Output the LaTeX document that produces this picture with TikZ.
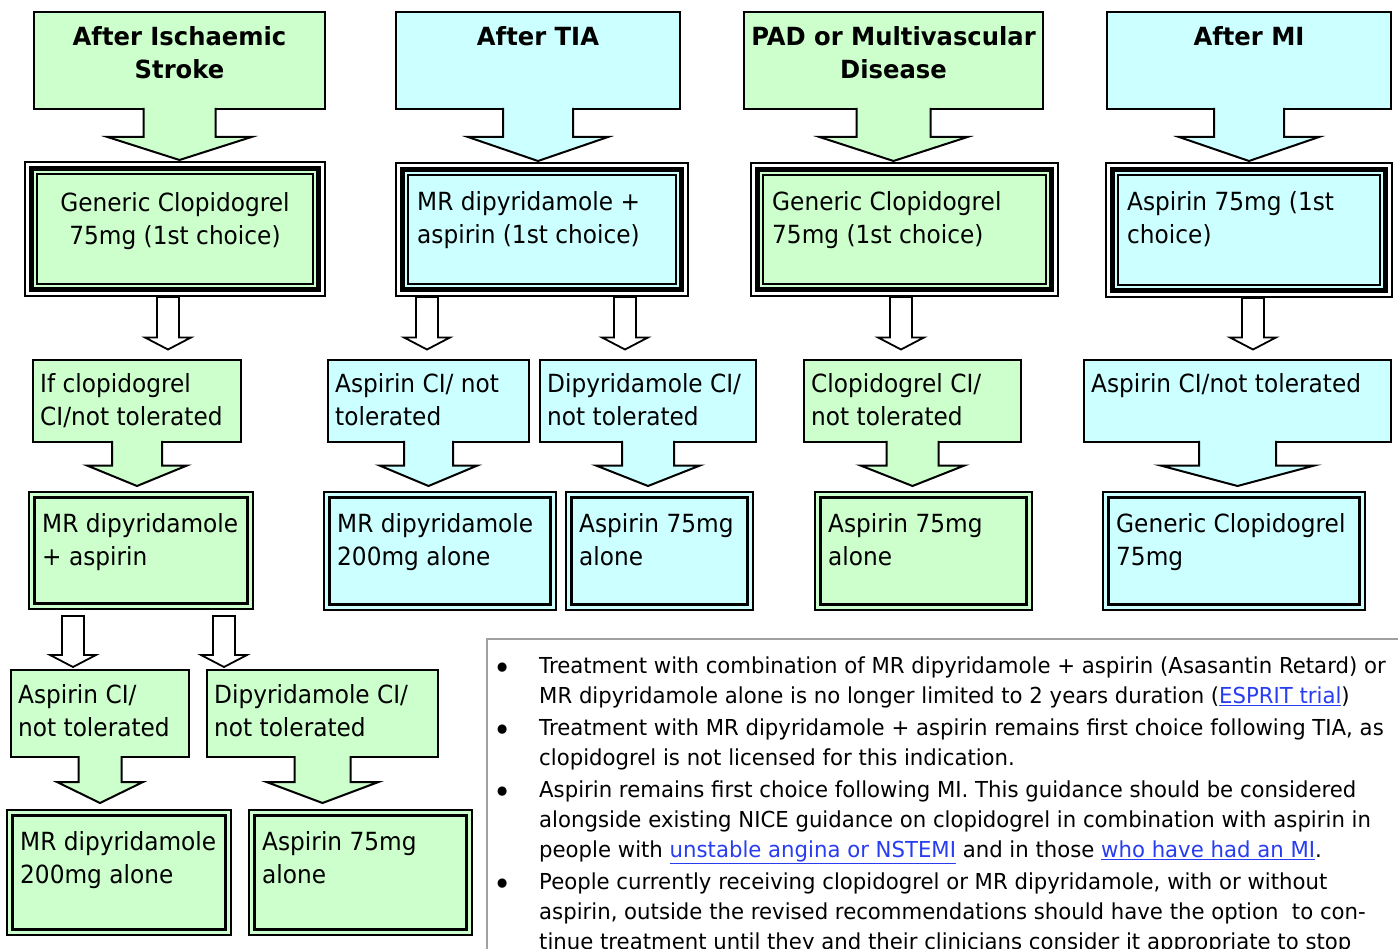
\documentclass[tikz,border=0pt]{standalone}
\usepackage{fontspec}
\setmainfont{DejaVu Sans}[FakeStretch=0.93]
\newfontfamily\headfont{DejaVu Sans}[FakeStretch=0.97]
\newfontfamily\notefont{DejaVu Sans}[FakeStretch=0.965]
\usetikzlibrary{calc}
\definecolor{greenfill}{RGB}{204,255,204}
\definecolor{cyanfill}{RGB}{204,255,255}
\definecolor{linkblue}{RGB}{40,60,240}
\definecolor{notegray}{RGB}{160,160,160}

\newcommand{\boxtext}{\fontsize{25}{33}\selectfont}
\newcommand{\headtext}{\headfont\bfseries\fontsize{25}{33}\selectfont}
\newcommand{\notetext}{\notefont\fontsize{22}{30}\selectfont}
\newcommand{\weblink}[1]{\textcolor{linkblue}{\underline{#1}}}
\newcommand{\notebullet}{\raisebox{-6pt}{\fontsize{32}{32}\selectfont •}}

% boxes are given by their outer corners (x1,y1,x2,y2), in pixels from the top left
\newcommand{\flowbox}[6]{%
  \node[plainbox, fill=#2, anchor=north west, minimum width=#5-#3-2, minimum height=#6-#4-2] (#1) at (#3+1,#4+1) {};}
\newcommand{\firstbox}[6]{%
  \node[outerline, anchor=north west, minimum width=#5-#3-2, minimum height=#6-#4-2] (#1) at (#3+1,#4+1) {};
  \draw[line width=5pt, fill=#2] ($(#1.north west)+(6.5,6.5)$) rectangle ($(#1.south east)+(-6.5,-6.5)$);
  \draw[line width=2pt] ($(#1.north west)+(12,12)$) rectangle ($(#1.south east)+(-12,-12)$);}
\newcommand{\resultbox}[6]{%
  \node[plainbox, line width=1.8pt, fill=#2, anchor=north west, minimum width=#5-#3-2, minimum height=#6-#4-2] (#1) at (#3+1,#4+1) {};
  \draw[line width=3pt] ($(#1.north west)+(5.8,5.8)$) rectangle ($(#1.south east)+(-5.8,-5.8)$);}

% arrow hanging from a box: source, target, stem half width, stem length, tip gap, fill
\newcommand{\calloutarrow}[6]{%
  \draw[line width=2pt, fill=#6] let \p1=(#1.south), \p2=(#2.north) in
    (\x1-#3pt,\y1+1pt) -- (\x1-#3pt,\y1-#4pt) -- (\x1-2*#3pt,\y1-#4pt) -- (\x1,\y2+#5pt)
    -- (\x1+2*#3pt,\y1-#4pt) -- (\x1+#3pt,\y1-#4pt) -- (\x1+#3pt,\y1+1pt);}
% white block arrow: source, target, x, top gap, tip gap
\newcommand{\hollowarrow}[5]{%
  \draw[line width=1.8pt, fill=white] let \p1=(#1.south), \p2=(#2.north) in
    (#3pt-11pt,\y1-#4pt) -- (#3pt-11pt,\y2+#5pt+12pt) -- (#3pt-23pt,\y2+#5pt+12pt) -- (#3pt,\y2+#5pt)
    -- (#3pt+23pt,\y2+#5pt+12pt) -- (#3pt+11pt,\y2+#5pt+12pt) -- (#3pt+11pt,\y1-#4pt) -- cycle;}

\begin{document}
\begin{tikzpicture}[x=1pt, y=-1pt,
    plainbox/.style={draw, line width=2pt, inner sep=0pt, outer sep=0pt},
    outerline/.style={draw, line width=2pt, fill=white, inner sep=0pt, outer sep=0pt},
    boxtxt/.style={font=\boxtext, align=left, inner sep=0pt, anchor=base west},
    headtxt/.style={font=\headtext, align=center, inner sep=0pt, anchor=base},
    notetxt/.style={font=\notetext, inner sep=0pt, anchor=base west}
  ]
  \clip (0,0) rectangle (1398,949);

  % after ischaemic stroke
  \flowbox{t1}{greenfill}{33}{11}{326}{110}
  \firstbox{c1}{greenfill}{24}{161}{326}{297}
  \flowbox{n1}{greenfill}{32}{359}{242}{443}
  \resultbox{r1}{greenfill}{28}{491}{254}{610}
  \flowbox{n1a}{greenfill}{10}{669}{190}{758}
  \flowbox{n1b}{greenfill}{206}{669}{439}{758}
  \resultbox{r1a}{greenfill}{6}{809}{232}{936}
  \resultbox{r1b}{greenfill}{248}{809}{473}{936}

  % after TIA
  \flowbox{t2}{cyanfill}{395}{11}{681}{110}
  \firstbox{c2}{cyanfill}{395}{162}{689}{297}
  \flowbox{n2a}{cyanfill}{327}{359}{530}{443}
  \flowbox{n2b}{cyanfill}{539}{359}{757}{443}
  \resultbox{r2a}{cyanfill}{323}{491}{557}{611}
  \resultbox{r2b}{cyanfill}{565}{491}{754}{611}

  % PAD
  \flowbox{t3}{greenfill}{743}{11}{1044}{110}
  \firstbox{c3}{greenfill}{750}{162}{1059}{297}
  \flowbox{n3}{greenfill}{803}{359}{1022}{443}
  \resultbox{r3}{greenfill}{814}{491}{1033}{611}

  % after MI
  \flowbox{t4}{cyanfill}{1106}{11}{1392}{110}
  \firstbox{c4}{cyanfill}{1105}{162}{1393}{298}
  \flowbox{n4}{cyanfill}{1083}{359}{1392}{443}
  \resultbox{r4}{cyanfill}{1102}{491}{1366}{611}

  \calloutarrow{t1}{c1}{36}{28}{2}{greenfill}
  \calloutarrow{t2}{c2}{35}{28}{2}{cyanfill}
  \calloutarrow{t3}{c3}{37}{28}{2}{greenfill}
  \calloutarrow{t4}{c4}{35}{28}{2}{cyanfill}
  \calloutarrow{n1}{r1}{25}{23.5}{6}{greenfill}
  \calloutarrow{n2a}{r2a}{24.5}{23.5}{6}{cyanfill}
  \calloutarrow{n2b}{r2b}{26}{23.5}{6}{cyanfill}
  \calloutarrow{n3}{r3}{26}{23.5}{6}{greenfill}
  \calloutarrow{n4}{r4}{38.5}{23.5}{6}{cyanfill}
  \calloutarrow{n1a}{r1a}{21.5}{25}{7}{greenfill}
  \calloutarrow{n1b}{r1b}{28}{25}{7}{greenfill}

  \hollowarrow{c1}{n1}{168}{1}{10.5}
  \hollowarrow{c2}{n2a}{427}{1}{10.5}
  \hollowarrow{c2}{n2b}{625}{1}{10.5}
  \hollowarrow{c3}{n3}{901}{1}{10.5}
  \hollowarrow{c4}{n4}{1253}{1}{10.5}
  \hollowarrow{r1}{n1a}{73}{7}{3}
  \hollowarrow{r1}{n1b}{224}{7}{3}

  % base anchor of a two-line text is its second line
  \node[headtxt] (t1-txt) at ($(t1.north)+(0,67)$) {After Ischaemic\\Stroke};
  \node[headtxt] (t2-txt) at ($(t2.north)+(0,34)$) {After TIA};
  \node[headtxt] (t3-txt) at ($(t3.north)+(0,67)$) {PAD or Multivascular\\Disease};
  \node[headtxt] (t4-txt) at ($(t4.north)+(0,34)$) {After MI};

  \node[boxtxt, anchor=base, align=center] (c1-txt) at ($(c1.north)+(0,83)$) {Generic Clopidogrel\\75mg (1st choice)};
  \node[boxtxt] (c2-txt) at ($(c2.north west)+(21,81)$) {MR dipyridamole +\\aspirin (1st choice)};
  \node[boxtxt] (c3-txt) at ($(c3.north west)+(21,81)$) {Generic Clopidogrel\\75mg (1st choice)};
  \node[boxtxt] (c4-txt) at ($(c4.north west)+(21,81)$) {Aspirin 75mg (1st\\choice)};

  \node[boxtxt] (n1-txt) at ($(n1.north west)+(7,66)$) {If clopidogrel\\CI/not tolerated};
  \node[boxtxt] (n2a-txt) at ($(n2a.north west)+(7,66)$) {Aspirin CI/ not\\tolerated};
  \node[boxtxt] (n2b-txt) at ($(n2b.north west)+(7,66)$) {Dipyridamole CI/\\not tolerated};
  \node[boxtxt] (n3-txt) at ($(n3.north west)+(7,66)$) {Clopidogrel CI/\\not tolerated};
  \node[boxtxt] (n4-txt) at ($(n4.north west)+(7,33)$) {Aspirin CI/not tolerated};
  \node[boxtxt] (n1a-txt) at ($(n1a.north west)+(7,66)$) {Aspirin CI/\\not tolerated};
  \node[boxtxt] (n1b-txt) at ($(n1b.north west)+(7,66)$) {Dipyridamole CI/\\not tolerated};

  \node[boxtxt] (r1-txt) at ($(r1.north west)+(13,73)$) {MR dipyridamole\\+ aspirin};
  \node[boxtxt] (r2a-txt) at ($(r2a.north west)+(13,73)$) {MR dipyridamole\\200mg alone};
  \node[boxtxt] (r2b-txt) at ($(r2b.north west)+(13,73)$) {Aspirin 75mg\\alone};
  \node[boxtxt] (r3-txt) at ($(r3.north west)+(13,73)$) {Aspirin 75mg\\alone};
  \node[boxtxt] (r4-txt) at ($(r4.north west)+(13,73)$) {Generic Clopidogrel\\75mg};
  \node[boxtxt] (r1a-txt) at ($(r1a.north west)+(13,73)$) {MR dipyridamole\\200mg alone};
  \node[boxtxt] (r1b-txt) at ($(r1b.north west)+(13,73)$) {Aspirin 75mg\\alone};

  % notes
  \node[draw=notegray, line width=2pt, inner sep=0pt, outer sep=0pt, anchor=north west,
        minimum width=940, minimum height=340] (notes) at (487,639) {};
  \node[notetxt] (notes-txt) at ($(notes.north west)+(6,34)$) {%
    \begin{tabular}[t]{@{}p{46pt}@{}l@{}}
      \notebullet & Treatment with combination of MR dipyridamole + aspirin (Asasantin Retard) or\\
        & MR dipyridamole alone is no longer limited to 2 years duration (\weblink{ESPRIT trial})\\[2pt]
      \notebullet & Treatment with MR dipyridamole + aspirin remains first choice following TIA, as\\
        & clopidogrel is not licensed for this indication.\\[2pt]
      \notebullet & Aspirin remains first choice following MI. This guidance should be considered\\
        & alongside existing NICE guidance on clopidogrel in combination with aspirin in\\
        & people with \weblink{unstable angina or NSTEMI} and in those \weblink{who have had an MI}.\\[2pt]
      \notebullet & People currently receiving clopidogrel or MR dipyridamole, with or without\\
        & aspirin, outside the revised recommendations should have the option\ \ to con-\\
        & tinue treatment until they and their clinicians consider it appropriate to stop\\
    \end{tabular}};
\end{tikzpicture}
\end{document}
